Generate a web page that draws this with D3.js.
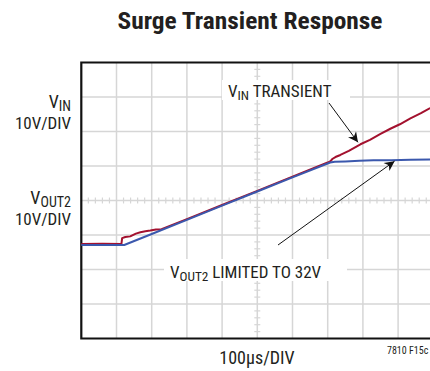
<!DOCTYPE html>
<html>
<head>
<meta charset="utf-8">
<script src="https://cdn.jsdelivr.net/npm/d3@7"></script>
<style>
  html, body { margin: 0; padding: 0; background: #fff; }
  svg { display: block; }
  text { font-family: "Liberation Sans Narrow", "Arial Narrow", "Roboto Condensed", "Liberation Sans", sans-serif; fill: #231f20; }
</style>
</head>
<body>
<svg id="chart" width="430" height="371"></svg>
<script>
// Time in µs (100 µs per division), voltage in volts (10 V per division)
const timeDivs = [0, 1, 2, 3, 4, 5, 6, 7, 8, 9, 10];
const voltDivs = [0, 1, 2, 3, 4, 5, 6, 7, 8];

// V_IN surge trace
const vinTime = [0, 60, 114, 116, 125, 139, 155, 168, 182, 196, 212, 228, 300, 400, 500, 600, 700, 708, 714, 722, 736, 760, 793, 820, 850, 878, 905, 935, 965, 991];
const vinVolts = [8.4, 8.5, 8.4, 10.1, 10.4, 10.6, 11.4, 11.8, 12.1, 12.3, 12.6, 12.7, 15.6, 19.7, 23.8, 27.9, 32.0, 32.4, 33.1, 33.6, 34.2, 35.4, 37.3, 38.6, 40.3, 41.8, 43.1, 44.8, 46.3, 47.8];

// V_OUT2 limited output trace
const voutTime = [0, 60, 122, 200, 300, 400, 500, 600, 707, 720, 750, 790, 830, 880, 935, 991];
const voutVolts = [8.1, 8.1, 8.1, 11.3, 15.4, 19.5, 23.6, 27.7, 32.0, 32.2, 32.3, 32.5, 32.7, 32.7, 32.8, 32.9];

const vin = vinTime.map((t, i) => ({ t, v: vinVolts[i] }));
const vout = voutTime.map((t, i) => ({ t, v: voutVolts[i] }));

const svg = d3.select("#chart");

const plotL = 81.3, plotR = 433.3, plotT = 62.5, plotB = 338.5;
const x = d3.scaleLinear().domain([0, 1000]).range([plotL, plotR]);
const y = d3.scaleLinear().domain([-19, 61]).range([plotB, plotT]);
const xd = d3.scaleLinear().domain([0, 10]).range([plotL, plotR]);
const yd = d3.scaleLinear().domain([0, 8]).range([plotB, plotT]);

const gridColor = "#d6d6d6";

// graticule
const grid = svg.append("g");
grid.selectAll("line.v").data(timeDivs.slice(1, -1)).join("line")
  .attr("x1", d => xd(d)).attr("x2", d => xd(d))
  .attr("y1", plotT).attr("y2", plotB)
  .attr("stroke", gridColor).attr("stroke-width", 1.5);
grid.selectAll("line.h").data(voltDivs.slice(1, -1)).join("line")
  .attr("y1", d => yd(d)).attr("y2", d => yd(d))
  .attr("x1", plotL).attr("x2", plotR)
  .attr("stroke", gridColor).attr("stroke-width", 1.5);

// minor ticks on the centre cross-hair
const minorX = d3.range(0, 10.001, 0.2).filter(d => Math.abs(d - Math.round(d)) > 1e-6);
const minorY = d3.range(0, 8.001, 0.2).filter(d => Math.abs(d - Math.round(d)) > 1e-6);
grid.selectAll("line.mx").data(minorX).join("line")
  .attr("x1", d => xd(d)).attr("x2", d => xd(d))
  .attr("y1", yd(4) - 3).attr("y2", yd(4) + 3)
  .attr("stroke", gridColor).attr("stroke-width", 1.2);
grid.selectAll("line.my").data(minorY).join("line")
  .attr("y1", d => yd(d)).attr("y2", d => yd(d))
  .attr("x1", xd(5) - 3).attr("x2", xd(5) + 3)
  .attr("stroke", gridColor).attr("stroke-width", 1.2);

// frame
svg.append("path")
  .attr("d", `M${plotR},${plotT}H${plotL}V${plotB}H${plotR}`)
  .attr("fill", "none").attr("stroke", "#111").attr("stroke-width", 2.2);

// traces
const line = d3.line().x(d => x(d.t)).y(d => y(d.v));
svg.append("path").datum(vin).attr("d", line)
  .attr("fill", "none").attr("stroke", "#a3112e").attr("stroke-width", 2)
  .attr("stroke-linejoin", "round");
svg.append("path").datum(vout).attr("d", line)
  .attr("fill", "none").attr("stroke", "#3b58ad").attr("stroke-width", 2)
  .attr("stroke-linejoin", "round");

// annotation boxes + arrows
const defs = svg.append("defs");
defs.append("marker").attr("id", "arr").attr("viewBox", "0 0 10 10")
  .attr("refX", 10).attr("refY", 5).attr("markerWidth", 15).attr("markerHeight", 10)
  .attr("markerUnits", "userSpaceOnUse").attr("orient", "auto")
  .append("path").attr("d", "M0,0L10,5L0,10L3,5Z").attr("fill", "#111");

svg.append("rect").attr("x", 222).attr("y", 80).attr("width", 128).attr("height", 20).attr("fill", "#fff");
svg.append("rect").attr("x", 164).attr("y", 259).attr("width", 183).attr("height", 22).attr("fill", "#fff");

svg.append("line").attr("x1", 329).attr("y1", 103).attr("x2", x(786)).attr("y2", y(37.0) - 3)
  .attr("stroke", "#111").attr("stroke-width", 1).attr("marker-end", "url(#arr)");
svg.append("line").attr("x1", 278).attr("y1", 245).attr("x2", x(890)).attr("y2", y(32.7) + 1)
  .attr("stroke", "#111").attr("stroke-width", 1).attr("marker-end", "url(#arr)");

// text helpers
function subLabel(g, xPos, yPos, main, sub, rest, size, anchor) {
  const t = g.append("text").attr("x", xPos).attr("y", yPos)
    .attr("font-size", size).attr("text-anchor", anchor);
  t.append("tspan").text(main);
  t.append("tspan").attr("font-size", size * 0.78).attr("dy", 2.5).text(sub);
  if (rest) t.append("tspan").attr("dy", -2.5).text(rest);
  return t;
}

// title
svg.append("text").attr("x", 250).attr("y", 29).attr("text-anchor", "middle")
  .attr("font-size", 23).attr("font-weight", "bold")
  .attr("textLength", 265).attr("lengthAdjust", "spacingAndGlyphs")
  .text("Surge Transient Response");

// channel scale labels
subLabel(svg, 71, 108, "V", "IN", null, 18, "end");
svg.append("text").attr("x", 71).attr("y", 129).attr("text-anchor", "end")
  .attr("font-size", 17).text("10V/DIV");
subLabel(svg, 71, 204, "V", "OUT2", null, 18, "end");
svg.append("text").attr("x", 71).attr("y", 225).attr("text-anchor", "end")
  .attr("font-size", 17).text("10V/DIV");

// annotations
subLabel(svg, 228, 97, "V", "IN", " TRANSIENT", 17, "start");
subLabel(svg, 170, 278, "V", "OUT2", " LIMITED TO 32V", 17, "start");

// horizontal scale + figure id
svg.append("text").attr("x", 257).attr("y", 364).attr("text-anchor", "middle")
  .attr("font-size", 18).text("100µs/DIV");
svg.append("text").attr("x", 387).attr("y", 354)
  .attr("font-size", 10).text("7810 F15c");
</script>
</body>
</html>
